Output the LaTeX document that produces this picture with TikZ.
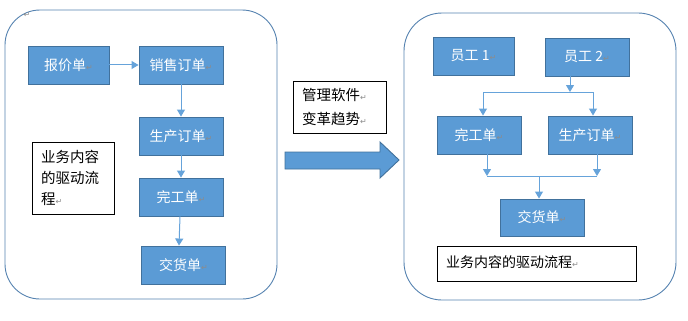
\documentclass[tikz,border=0pt]{standalone}
\usepackage{fontspec}
\setmainfont{Noto Sans CJK SC}
\newfontfamily\dejavu{DejaVu Sans}
\usetikzlibrary{arrows.meta}
\definecolor{boxfill}{HTML}{5B9BD5}
\definecolor{boxline}{HTML}{41719C}
\definecolor{frameline}{HTML}{5582B0}
\definecolor{linkc}{HTML}{66A3DA}
\newcommand\retmark{{\dejavu\fontsize{8}{8}\selectfont\color{gray!90}↵}}
\tikzset{
  blk/.style={draw=boxline, fill=boxfill, line width=0.9pt, text=white,
    font=\fontsize{14}{16}\selectfont, inner sep=0pt,
    minimum width=84pt, minimum height=38pt},
  tbox/.style={draw=black, line width=0.8pt, fill=white, inner sep=0pt},
  frame/.style={draw=frameline, line width=0.9pt},
  link/.style={draw=linkc, line width=1pt},
  arr/.style={link, -{Triangle[width=8pt,length=7pt]}}
}
\begin{document}
\begin{tikzpicture}[x=1pt,y=-1pt]
\useasboundingbox (0,0) rectangle (688,321);
% frames
\draw[frame, rounded corners=35pt] (5,10) rectangle (277,299);
\draw[frame, rounded corners=38pt] (404,13) rectangle (676,300);
\node[inner sep=0pt] (topmark) at (27,15) {\retmark};
% left flow
\node[blk, minimum width=81pt] (bj) at (68.5,65) {报价单\retmark};
\node[blk] (xs) at (181,65) {销售订单\retmark};
\node[blk] (sc) at (181,136) {生产订单\retmark};
\node[blk] (wg) at (181,197) {完工单\retmark};
\node[blk] (jh) at (183.5,265) {交货单\retmark};
\node[tbox, minimum width=82pt, minimum height=72pt] (lt) at (73,178) {};
\node[anchor=north west, inner sep=0pt, align=left,
      font=\fontsize{14.5}{21}\selectfont] (ltx) at (41,150)
      {业务内容\\的驱动流\\程\retmark};
\draw[arr] (bj.east) -- (xs.west);
\draw[arr] (xs.south) -- (sc.north);
\draw[arr] (sc.south) -- (wg.north);
\draw[arr] ([xshift=-1pt]wg.south) -- ([xshift=-4.5pt]jh.north);
% middle
\node[tbox, minimum width=93pt, minimum height=52pt] (mt) at (339.5,107) {};
\node[anchor=north west, inner sep=0pt, align=left,
      font=\fontsize{14.5}{24}\selectfont] (mtx) at (302,88)
      {管理软件\retmark\\变革趋势\retmark};
\draw[draw=boxline, fill=boxfill, line width=0.9pt]
  (285,152) -- (380,152) -- (380,142) -- (399,160) -- (380,178)
  -- (380,169) -- (285,169) -- cycle;
% right flow
\node[blk, minimum width=81pt] (e1) at (473.5,56) {员工 1\retmark};
\node[blk] (e2) at (587,57) {员工 2\retmark};
\node[blk] (rw) at (479,135) {完工单\retmark};
\node[blk] (rs) at (590,135) {生产订单\retmark};
\node[blk, minimum height=37pt] (rj) at (542,217.5) {交货单\retmark};
\node[tbox, minimum width=199pt, minimum height=35pt] (rt) at (536.5,263.5) {};
\node[anchor=west, inner sep=0pt, font=\fontsize{14}{16}\selectfont] (rtx)
      at (446,262) {业务内容的驱动流程\retmark};
\coordinate (j1) at (570,92);
\coordinate (j1l) at (483,92);
\coordinate (j1r) at (593,92);
\coordinate (j2l) at (487,176);
\coordinate (j2r) at (597,176);
\coordinate (j2m) at (539,176);
\draw[arr] (j1 |- e2.south) -- (j1);
\draw[link] (j1l) -- (j1r);
\draw[arr] (j1l) -- (j1l |- rw.north);
\draw[arr] (j1r) -- (j1r |- rs.north);
\draw[arr] (j2l |- rw.south) -- (j2l);
\draw[arr] (j2r |- rs.south) -- (j2r);
\draw[link] (j2l) -- (j2r);
\draw[arr] (j2m) -- (j2m |- rj.north);
\end{tikzpicture}
\end{document}
